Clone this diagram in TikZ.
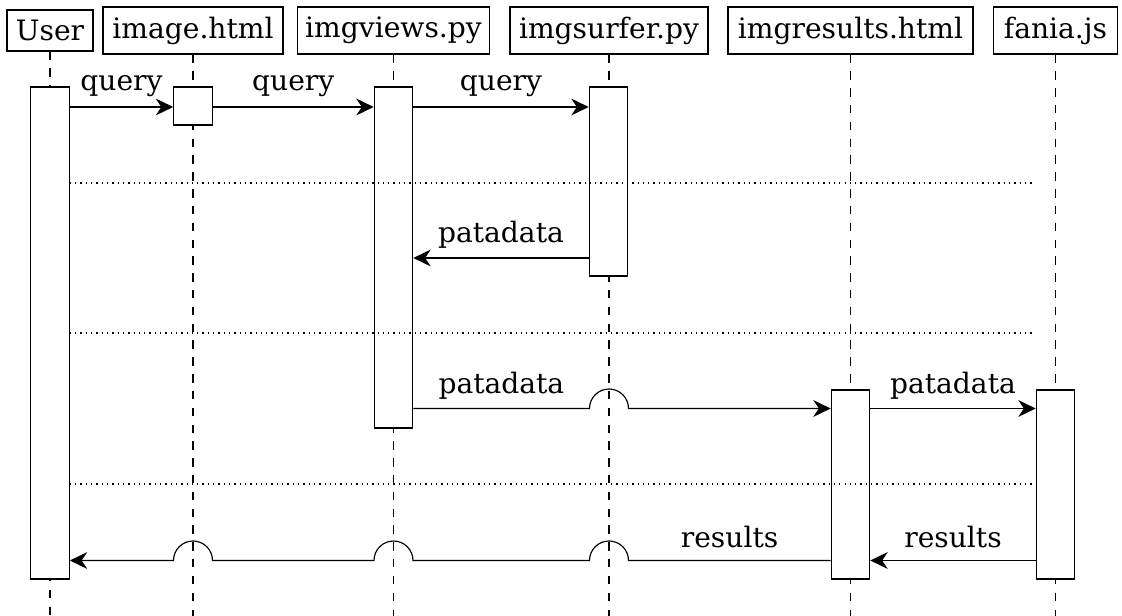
\documentclass[tikz,border=0pt]{standalone}
\usepackage{fontspec}
\setmainfont{DejaVu Serif}
\usetikzlibrary{arrows.meta,calc}

% one drawing unit = one pixel of a 1122 x 616 canvas, y pointing down
\newlength\pxlen
\setlength\pxlen{0.3449pt}

\tikzset{
  x=0.3449pt, y=-0.3449pt,
  every node/.style={font=\fontsize{9.7}{11.5}\selectfont},
  actor/.style={draw, inner sep=0pt, minimum height=47\pxlen},
  actbox/.style={draw, fill=white, inner sep=0pt, minimum width=38.5\pxlen},
  life/.style={dash pattern=on 2.9pt off 2.9pt},
  sep/.style={dash pattern=on 0.45pt off 1.38pt, line width=0.45pt},
  msg/.style={-{Stealth[length=6pt,width=5.8pt]}},
  lbl/.style={anchor=base, inner sep=0pt},
}

\begin{document}
\begin{tikzpicture}
\useasboundingbox (0,0) rectangle (1122,616);

% participants
\node[actor, minimum width=86\pxlen, minimum height=41\pxlen] (u) at (50,30.5) {User};
\node[actor, minimum width=180\pxlen] (i) at (193,30.5) {image.html};
\node[actor, minimum width=192\pxlen] (v) at (393.5,30.5) {imgviews.py};
\node[actor, minimum width=198\pxlen] (s) at (609,30.5) {imgsurfer.py};
\node[actor, minimum width=245\pxlen] (r) at (850.5,30.5) {imgresults.html};
\node[actor, minimum width=124\pxlen] (f) at (1055.5,30.5) {fania.js};

% rows
\coordinate (bottom) at (0,616);
\coordinate (m1) at (0,107);
\coordinate (d1) at (0,183);
\coordinate (m4) at (0,258);
\coordinate (d2) at (0,333);
\coordinate (m5) at (0,408.5);
\coordinate (d3) at (0,484);
\coordinate (m8) at (0,560.5);

% lifelines
\foreach \p in {u,i,v,s,r,f}
  \draw[life] (\p.south) -- (\p.south |- bottom);

% activations
\node[actbox, minimum height=492\pxlen] (ua) at (50,333) {};
\node[actbox, minimum height=38\pxlen] (ia) at (193,106) {};
\node[actbox, minimum height=341\pxlen] (va) at (393.5,257.5) {};
\node[actbox, minimum height=189\pxlen] (sa) at (608.5,181.5) {};
\node[actbox, minimum height=189\pxlen] (ra) at (850.5,484.5) {};
\node[actbox, minimum height=189\pxlen] (fa) at (1055.5,484.5) {};

% separators
\foreach \d in {d1,d2,d3}
  \draw[sep] (ua.east |- \d) -- ($(fa.west |- \d)+(-3,0)$);

% messages
\draw[msg] (ua.east |- m1) -- node[lbl, yshift=16\pxlen]{query} (ia.west |- m1);
\draw[msg] (ia.east |- m1) -- node[lbl, yshift=16\pxlen]{query} (va.west |- m1);
\draw[msg] (va.east |- m1) -- node[lbl, yshift=16\pxlen]{query} (sa.west |- m1);
\draw[msg] (sa.west |- m4) -- node[lbl, yshift=15\pxlen]{patadata} (va.east |- m4);
\draw[msg] (va.east |- m5) -- node[lbl, yshift=15\pxlen]{patadata} ($(s |- m5)+(-19.5,0)$)
  arc[start angle=180, end angle=360, radius=19.5] -- (ra.west |- m5);
\draw[msg] (ra.east |- m5) -- node[lbl, yshift=15\pxlen]{patadata} (fa.west |- m5);
\draw[msg] (fa.west |- m8) -- node[lbl, yshift=13\pxlen]{results} (ra.east |- m8);
\draw[msg] (ra.west |- m8) -- node[lbl, yshift=13\pxlen]{results} ($(s |- m8)+(19.5,0)$)
  arc[start angle=0, end angle=-180, radius=19.5] -- ($(v |- m8)+(19.5,0)$)
  arc[start angle=0, end angle=-180, radius=19.5] -- ($(i |- m8)+(19.5,0)$)
  arc[start angle=0, end angle=-180, radius=19.5] -- (ua.east |- m8);
\end{tikzpicture}
\end{document}
